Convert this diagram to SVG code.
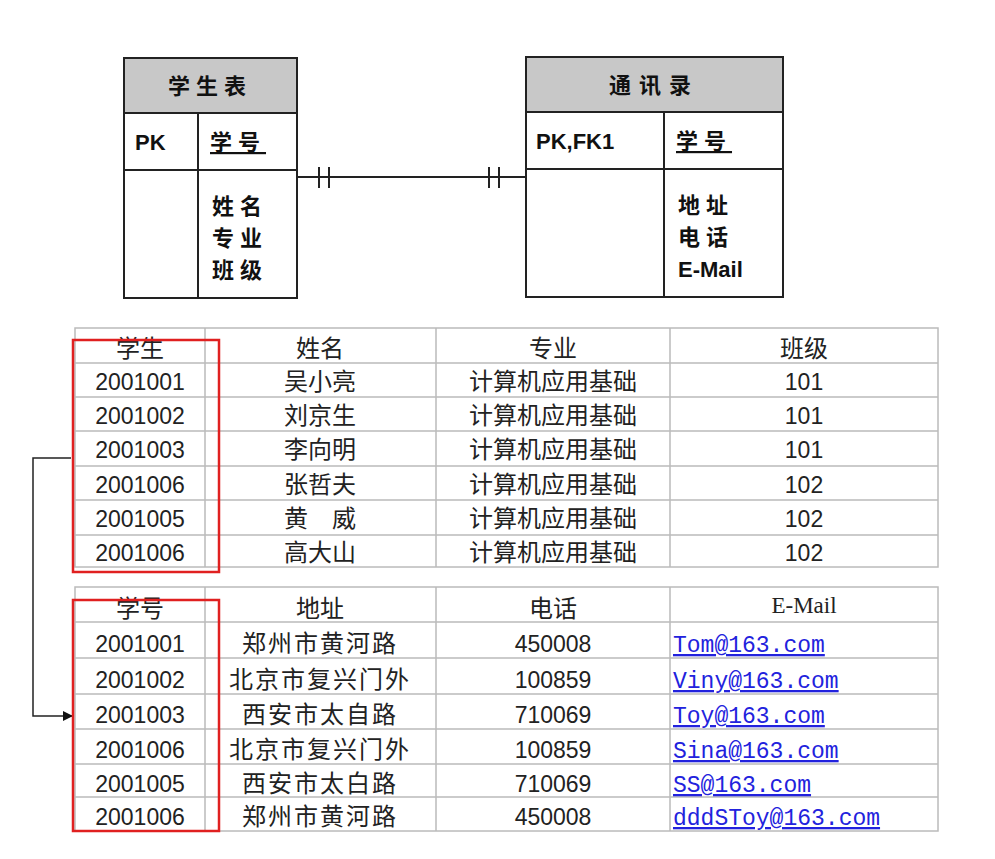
<svg xmlns="http://www.w3.org/2000/svg" width="995" height="859" viewBox="0 0 995 859">
<style>
.ent{fill:#fff;stroke:#222;stroke-width:2}
.hdr{fill:#c8c8c8;stroke:#222;stroke-width:2}
.ln{stroke:#222;stroke-width:2;fill:none}
.et{font-family:"Noto Sans CJK SC","Liberation Sans",sans-serif;font-weight:bold;font-size:22px;fill:#111}
.ep{font-family:"Liberation Sans",sans-serif;font-weight:bold;font-size:22px;fill:#111}
.g{stroke:#bbb;stroke-width:1.5;fill:none}
.t{font-family:"Noto Sans CJK SC",sans-serif;font-size:24px;fill:#222;text-anchor:middle}
.n{font-family:"Liberation Sans",sans-serif;font-size:23px;fill:#222;text-anchor:middle}
.m{font-family:"Liberation Mono",monospace;font-size:23px;fill:#2222dd;text-decoration:underline}
.red{fill:none;stroke:#e02020;stroke-width:2.5}
</style>
<defs><marker id="ah" markerWidth="10" markerHeight="10" refX="9" refY="5" orient="auto" markerUnits="userSpaceOnUse"><path d="M0,0 L10,5 L0,10 Z" fill="#111"/></marker></defs>
<rect width="995" height="859" fill="#fff"/>
<g id="student">
<rect class="ent" x="124" y="58" width="173" height="240"/>
<rect class="hdr" x="124" y="58" width="173" height="55"/>
<line class="ln" x1="124" y1="170" x2="297" y2="170"/>
<line class="ln" x1="198" y1="113" x2="198" y2="298"/>
<text class="et" x="210" y="94" text-anchor="middle" letter-spacing="6">学生表</text>
<text class="ep" x="135" y="150">PK</text>
<text class="et" x="210" y="150" letter-spacing="6" text-decoration="underline">学号</text>
<text class="et" x="212" y="214" letter-spacing="6">姓名</text>
<text class="et" x="212" y="246" letter-spacing="6">专业</text>
<text class="et" x="212" y="278" letter-spacing="6">班级</text>
</g>
<g id="contact">
<rect class="ent" x="526" y="57" width="257" height="240"/>
<rect class="hdr" x="526" y="57" width="257" height="55"/>
<line class="ln" x1="526" y1="169" x2="783" y2="169"/>
<line class="ln" x1="664" y1="112" x2="664" y2="297"/>
<text class="et" x="654" y="93" text-anchor="middle" letter-spacing="8">通讯录</text>
<text class="ep" x="536" y="149">PK,FK1</text>
<text class="et" x="676" y="149" letter-spacing="6" text-decoration="underline">学号</text>
<text class="et" x="678" y="213" letter-spacing="6">地址</text>
<text class="et" x="678" y="245" letter-spacing="6">电话</text>
<text class="ep" x="678" y="277" font-weight="normal">E-Mail</text>
</g>
<g id="connectors">
<line class="ln" x1="297" y1="177" x2="526" y2="177" stroke-width="2.5"/>
<line class="ln" x1="319" y1="167" x2="319" y2="188"/>
<line class="ln" x1="329" y1="167" x2="329" y2="188"/>
<line class="ln" x1="489" y1="167" x2="489" y2="188"/>
<line class="ln" x1="499" y1="167" x2="499" y2="188"/>
<polyline points="71,458 33,458 33,716 72,716" fill="none" stroke="#222" stroke-width="1.5" marker-end="url(#ah)"/>
</g>
<g id="table1">
<rect class="g" x="75" y="328" width="863" height="239"/>
<path class="g" d="M75,363H938M75,397H938M75,431H938M75,466H938M75,500H938M75,535H938M205,328V567M436,328V567M670,328V567"/>
<text class="t" x="140" y="357">学生</text><text class="t" x="320" y="357">姓名</text><text class="t" x="553" y="357">专业</text><text class="t" x="804" y="357">班级</text>
<g class="n"><text x="140" y="390">2001001</text><text x="140" y="424">2001002</text><text x="140" y="458">2001003</text><text x="140" y="493">2001006</text><text x="140" y="527">2001005</text><text x="140" y="561">2001006</text>
<text x="804" y="390">101</text><text x="804" y="424">101</text><text x="804" y="458">101</text><text x="804" y="493">102</text><text x="804" y="527">102</text><text x="804" y="561">102</text></g>
<g class="t"><text x="320" y="390">吴小亮</text><text x="320" y="424">刘京生</text><text x="320" y="458">李向明</text><text x="320" y="493">张哲夫</text><text x="320" y="527">黄　威</text><text x="320" y="561">高大山</text>
<text x="553" y="390">计算机应用基础</text><text x="553" y="424">计算机应用基础</text><text x="553" y="458">计算机应用基础</text><text x="553" y="493">计算机应用基础</text><text x="553" y="527">计算机应用基础</text><text x="553" y="561">计算机应用基础</text></g>
<rect class="red" x="73" y="340" width="146" height="232"/>
</g>
<g id="table2">
<rect class="g" x="75" y="587" width="863" height="244"/>
<path class="g" d="M75,622H938M75,658H938M75,694H938M75,729H938M75,764H938M75,797H938M205,587V831M436,587V831M670,587V831"/>
<text class="t" x="140" y="617">学号</text><text class="t" x="320" y="617">地址</text><text class="t" x="553" y="617">电话</text><text x="804" y="613" font-family="Liberation Serif,serif" font-size="23" text-anchor="middle" fill="#222">E-Mail</text>
<g class="n"><text x="140" y="652">2001001</text><text x="140" y="688">2001002</text><text x="140" y="723">2001003</text><text x="140" y="758">2001006</text><text x="140" y="792">2001005</text><text x="140" y="825">2001006</text>
<text x="553" y="652">450008</text><text x="553" y="688">100859</text><text x="553" y="723">710069</text><text x="553" y="758">100859</text><text x="553" y="792">710069</text><text x="553" y="825">450008</text></g>
<g class="t" letter-spacing="2"><text x="320" y="652">郑州市黄河路</text><text x="320" y="688">北京市复兴门外</text><text x="320" y="723">西安市太自路</text><text x="320" y="758">北京市复兴门外</text><text x="320" y="792">西安市太白路</text><text x="320" y="825">郑州市黄河路</text></g>
<g class="m"><text x="673" y="652">Tom@163.com</text><text x="673" y="688">Viny@163.com</text><text x="673" y="723">Toy@163.com</text><text x="673" y="758">Sina@163.com</text><text x="673" y="792">SS@163.com</text><text x="673" y="825">dddSToy@163.com</text></g>
<rect class="red" x="73" y="600" width="146" height="231"/>
</g>
</svg>
